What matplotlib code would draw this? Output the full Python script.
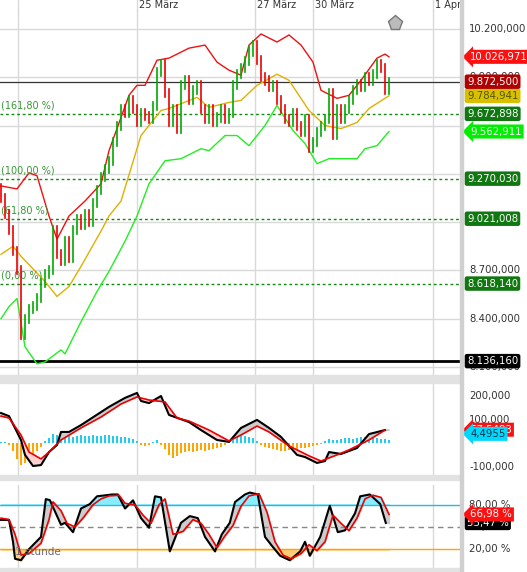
import numpy as np
import matplotlib.pyplot as plt
from matplotlib.transforms import blended_transform_factory

# hourly closes (bar index 0..97)
closes = [9150, 9050, 8950, 8820, 8700, 8300, 8400, 8460, 8480, 8530,
          8620, 8680, 8700, 8950, 8800, 8760, 8880, 8780, 8950, 9020,
          8980, 9050, 9000, 9120, 9200, 9280, 9330, 9380, 9500, 9600,
          9700, 9680, 9760, 9700, 9620, 9680, 9660, 9640, 9720, 9930,
          9980, 9800, 9620, 9700, 9580, 9850, 9880, 9760, 9820, 9850,
          9700, 9640, 9700, 9620, 9650, 9700, 9640, 9680, 9850, 9920,
          9960, 10000, 10060, 10100, 10010, 9900, 9880, 9840, 9850, 9760,
          9700, 9640, 9620, 9680, 9600, 9560, 9640, 9460, 9500, 9560,
          9600, 9640, 9800, 9540, 9700, 9640, 9700, 9760, 9820, 9860,
          9840, 9900, 9880, 9920, 9980, 9960, 9820, 9872.5]

# bollinger bands (sparse points: bar index, price)
bb_up_x = [0, 4, 7, 9, 12, 14, 17, 21, 25, 27, 32, 34, 36, 39, 42, 47, 51, 54, 57, 60,
           62, 65, 69, 72, 75, 78, 80, 84, 87, 90, 94, 96, 97]
bb_up = [9225, 9206, 9306, 9288, 9038, 8894, 9038, 9131, 9238, 9444, 9788, 9850, 9850,
         10006, 10019, 10081, 10100, 9994, 9944, 9913, 10100, 10169, 10119, 10163, 10100,
         9994, 9819, 9769, 9788, 9881, 10019, 10044, 10027]
bb_mid_x = [0, 3, 5, 11, 14, 17, 20, 25, 27, 30, 35, 40, 42, 49, 52, 57, 60, 64, 69, 72,
            77, 81, 85, 89, 92, 97]
bb_mid = [8800, 8850, 8788, 8631, 8538, 8600, 8725, 8944, 9038, 9131, 9538, 9694, 9706,
          9775, 9713, 9744, 9756, 9850, 9919, 9881, 9694, 9600, 9581, 9619, 9706, 9785]
bb_low_x = [0, 2, 4, 6, 9, 11, 15, 16, 20, 24, 27, 31, 34, 37, 41, 45, 50, 52, 56, 59,
            62, 66, 69, 73, 76, 79, 82, 89, 91, 94, 97]
bb_low = [8400, 8475, 8525, 8225, 8119, 8131, 8206, 8181, 8381, 8569, 8694, 8881, 9038,
          9238, 9381, 9394, 9456, 9444, 9538, 9538, 9475, 9600, 9725, 9569, 9488, 9363,
          9394, 9394, 9456, 9475, 9563]

fib_levels = [9672.898, 9270.030, 9021.008, 8618.140]
fib_names = ["(161,80 %)", "(100,00 %)", "(61,80 %)", "(0,00 %)"]
last_price = 9872.5
low_line = 8136.16

# MACD (sparse)
macd_x = [0, 2, 5, 6, 8, 10, 12, 14, 15, 17, 20, 25, 27, 31, 34, 35, 37, 40, 42, 47,
          50, 54, 57, 60, 64, 67, 70, 74, 76, 79, 81, 82, 85, 89, 92, 96]
macd = [128, 115, 14, -49, -96, -92, -37, -7, 48, 48, 77, 132, 154, 192, 213, 179, 170,
        200, 120, 90, 56, 14, 6, 65, 99, 65, 27, -49, -58, -83, -75, -37, -45, -20, 39, 56]
signal_x = [0, 2, 5, 7, 10, 12, 15, 20, 25, 30, 34, 37, 41, 44, 47, 52, 57, 60, 64, 67,
            72, 77, 80, 84, 87, 92, 96]
signal = [115, 107, 35, -37, -66, -37, 14, 65, 111, 166, 196, 183, 175, 107, 94, 56, 10,
          35, 73, 48, -11, -53, -75, -49, -28, 14, 56]
hist_px = [1, 1, -2, -8, -16, -22, -20, -16, -12, -8, -4, 2, 5, 9, 8, 7,
           7, 8, 6, 7, 8, 7, 7, 8, 7, 7, 8, 8, 7, 7, 6, 6, 5,
           4, 2, -2, -3, -2, 1, 3, -2, -6, -12, -15, -13, -10,
           -9, -8, -9, -8, -7, -8, -7, -6, -5, -4, -2,
           2, 5, 6, 7, 7, 6, 5, 2,
           -2, -4, -5, -6, -7, -8, -8, -7, -7, -6, -5, -5, -4, -3, -2, -1,
           2, 4, 3, 3, 4, 5, 5, 4, 5, 6, 6, 6, 6, 5, 4, 4, 3]
hist = [h * 4.22 for h in hist_px]

# stochastic (sparse)
stk_x = [0, 2, 3, 3.5, 5, 7, 10, 11.2, 12.2, 15, 16, 18, 20, 22.2, 24, 26, 27.8, 29.2,
         31, 33, 35, 37, 38.5, 40, 42.2, 45, 47.2, 49.2, 51, 53.5, 55.2, 57.2, 58.5, 61,
         62.2, 64.2, 66, 67.8, 69.8, 72.2, 74.8, 76, 77.2, 79.8, 82.2, 84.2, 86, 88.5,
         89.8, 92.2, 94.8, 96.2]
stk = [59.6, 59.6, 30, 7, 5, 20, 36.6, 87.7, 86.4, 53, 55.7, 43, 75, 81, 91.5, 92.8,
       94, 94, 75, 86, 62, 49, 91.5, 90, 17, 55.7, 64.7, 62, 36.6, 17, 40, 55.7, 83.8,
       94, 96.6, 94, 36.6, 24, 11, 5, 17, 30, 11, 36.6, 78.7, 43, 45.5, 68.5, 91.5, 94,
       81, 55.47]
std_x = [0, 2, 3.5, 5, 7, 10, 12, 13, 15, 16.5, 18.5, 20.5, 23, 25, 27, 29.5, 31, 33.5,
         35.5, 37.5, 39.5, 41, 43, 45.5, 48, 50, 52, 54, 56, 58, 60, 62, 64.5, 66.5, 68.5,
         70.5, 72.5, 75, 77, 79, 81, 83, 85, 87, 89, 91, 93, 95, 97]
std = [62, 60, 40, 12, 14, 28, 60, 84, 72, 55, 50, 62, 80, 88, 92, 93, 82, 80, 66, 55,
       80, 88, 40, 44, 60, 55, 40, 22, 38, 52, 78, 92, 95, 70, 30, 12, 7, 14, 26, 18, 30,
       66, 55, 45, 62, 88, 93, 90, 66.98]

W, H = 527, 572
fig = plt.figure(figsize=(W / 100, H / 100), dpi=100)
fig.patch.set_facecolor("white")
plt.rcParams['font.family'] = ['DejaVu Sans']


def axes_px(top, bottom):
    return fig.add_axes([0, (H - bottom) / H, 460 / W, (bottom - top) / H])


# gray separators
fig.add_artist(plt.Rectangle((0, (H - 383) / H), 460 / W, 8 / H, transform=fig.transFigure, color="#e2e2e2"))
fig.add_artist(plt.Rectangle((0, (H - 480) / H), 460 / W, 5 / H, transform=fig.transFigure, color="#e2e2e2"))
fig.add_artist(plt.Rectangle((0, 0), 460 / W, 4 / H, transform=fig.transFigure, color="#e2e2e2"))
fig.add_artist(plt.Rectangle((460 / W, 0), 3 / W, 1, transform=fig.transFigure, color="#d0d0d0"))

xmin, xmax = -0.25, 114.75
date_x = [34, 63.5, 78, 108]
date_labels = ["25 März", "27 März", "30 März", "1 Apr."]
vgrid = [4.25] + date_x

ax = axes_px(10, 375)
ax.set_xlim(xmin, xmax)
ax.set_ylim(8050, 10318)
for s in ax.spines.values():
    s.set_visible(False)
ax.set_xticks([])
ax.set_yticks([])
for g in vgrid:
    ax.axvline(g, color="#d9d9d9", lw=1, zorder=0)
    ax.plot([g, g], [10318, 10318 + 70], color="#d9d9d9", lw=1, clip_on=False)
for g in np.arange(8100, 10300, 300):
    ax.axhline(g, color="#d9d9d9", lw=1, zorder=0)
for dx, dl in zip(date_x, date_labels):
    ax.text(dx + 0.6, 10318 + 30, dl, fontsize=7, color="#333333", va="center", ha="left", clip_on=False)

tr = blended_transform_factory(ax.transAxes, ax.transData)
for lv, nm in zip(fib_levels, fib_names):
    ax.axhline(lv, color="#118811", lw=1, ls=(0, (2, 2)), zorder=1)
    ax.text(0.003, lv + 18, nm, fontsize=7, color="#339933", transform=tr, va="bottom")
ax.axhline(last_price, color="#333333", lw=0.9, zorder=1)
ax.axhline(low_line, color="black", lw=2, zorder=1)

prev = closes[0] + 60
for i, c in enumerate(closes):
    col = "#00aa00" if c >= prev else "#ee0000"
    ax.plot([i, i], [min(prev, c) - 25, max(prev, c) + 25], color=col, lw=1.2, zorder=3)
    prev = c

ax.plot(bb_up_x, bb_up, color="#ee1111", lw=1, zorder=2)
ax.plot(bb_mid_x, bb_mid, color="#e0b000", lw=1, zorder=2)
ax.plot(bb_low_x, bb_low, color="#22ee22", lw=1, zorder=2)
ax.plot([98.5], [10240], marker="p", ms=11, color="#bbbbbb", mec="#777777", clip_on=False)


def tag(a, y, txt, fc, tc="white", arrow=False):
    t = blended_transform_factory(a.transAxes, a.transData)
    style = "larrow,pad=0.2" if arrow else "round,pad=0.22"
    a.text(1.022 if arrow else 1.015, y, txt, transform=t, fontsize=7.3, color=tc, va="center",
           ha="left", bbox=dict(boxstyle=style, fc=fc, ec="none"), clip_on=False, zorder=10)


def lab(a, y, txt):
    t = blended_transform_factory(a.transAxes, a.transData)
    a.text(1.02, y, txt, transform=t, fontsize=7.3, color="#333333", va="center", ha="left",
           clip_on=False, zorder=5)


for v in [10200, 9900, 8700, 8400, 8100]:
    lab(ax, v, f"{v // 1000}.{v % 1000:03d},000")
tag(ax, 10027, "10.026,971", "#ff1010", arrow=True)
tag(ax, 9784.941, "9.784,941", "#d8c000", "#555500")
tag(ax, 9872.5, "9.872,500", "#b00000")
tag(ax, 9562.911, "9.562,911", "#00ee00", arrow=True)
for lv in fib_levels:
    s = f"{lv:.3f}".replace(".", ",")
    tag(ax, lv, s[0] + "." + s[1:], "#117711")
tag(ax, low_line, "8.136,160", "black")

# MACD panel
ax2 = axes_px(383, 475)
ax2.set_xlim(xmin, xmax)
ax2.set_ylim(-134, 255)
for s in ax2.spines.values():
    s.set_visible(False)
ax2.set_xticks([])
ax2.set_yticks([])
for g in vgrid:
    ax2.axvline(g, color="#d9d9d9", lw=1, zorder=0)
hcol = ["#22ccee" if h >= 0 else "#ffa500" for h in hist]
ax2.bar(range(len(hist)), hist, width=0.28, color=hcol, zorder=1)
grid_x = np.linspace(0, 97, 400)
m_i = np.interp(grid_x, macd_x, macd)
s_i = np.interp(grid_x, signal_x, signal)
ax2.fill_between(grid_x, m_i, s_i, where=m_i >= s_i, color="#cccccc", zorder=2, interpolate=True)
ax2.fill_between(grid_x, m_i, s_i, where=m_i < s_i, color="#ffd0d0", zorder=2, interpolate=True)
ax2.plot(macd_x, macd, color="black", lw=1.5, zorder=3)
ax2.plot(signal_x, signal, color="#ee0000", lw=1.2, zorder=4)
lab(ax2, 200, "200,000")
lab(ax2, 100, "100,000")
lab(ax2, -100, "-100,000")
tag(ax2, 57.5, "57,5483", "#ff1010", arrow=True)
tag(ax2, 40, "4,4955", "#00d8ff", "#003344", arrow=True)

# stochastic panel
ax3 = axes_px(485, 568)
ax3.set_xlim(xmin, xmax)
ax3.set_ylim(-5.5, 106.8)
for s in ax3.spines.values():
    s.set_visible(False)
ax3.set_xticks([])
ax3.set_yticks([])
for g in vgrid:
    ax3.axvline(g, color="#d9d9d9", lw=1, zorder=0)
ax3.axhline(80, color="#22bbdd", lw=1)
ax3.axhline(20, color="#ffa500", lw=1)
ax3.axhline(50, color="#888888", lw=1, ls=(0, (4, 3)))
k_i = np.interp(grid_x, stk_x, stk)
d_i = np.interp(grid_x, std_x, std)
ax3.fill_between(grid_x, k_i, d_i, color="#cccccc", zorder=1)
ax3.fill_between(grid_x, np.maximum(np.maximum(k_i, d_i), 80), 80, color="#88eeff", zorder=1)
ax3.fill_between(grid_x, np.minimum(np.minimum(k_i, d_i), 20), 20, color="#ffcc77", zorder=1)
ax3.plot(stk_x, stk, color="black", lw=1.5, zorder=3)
ax3.plot(std_x, std, color="#ee0000", lw=1.2, zorder=4)
ax3.text(3.5, 12, "1 stunde", fontsize=7.5, color="#666677", zorder=5)
lab(ax3, 80, "80,00 %")
lab(ax3, 50, "50,00 %")
lab(ax3, 20, "20,00 %")
tag(ax3, 55.47, "55,47 %", "black")
tag(ax3, 66.98, "66,98 %", "#ff1010", arrow=True)

fig.savefig("out.png", dpi=100)
